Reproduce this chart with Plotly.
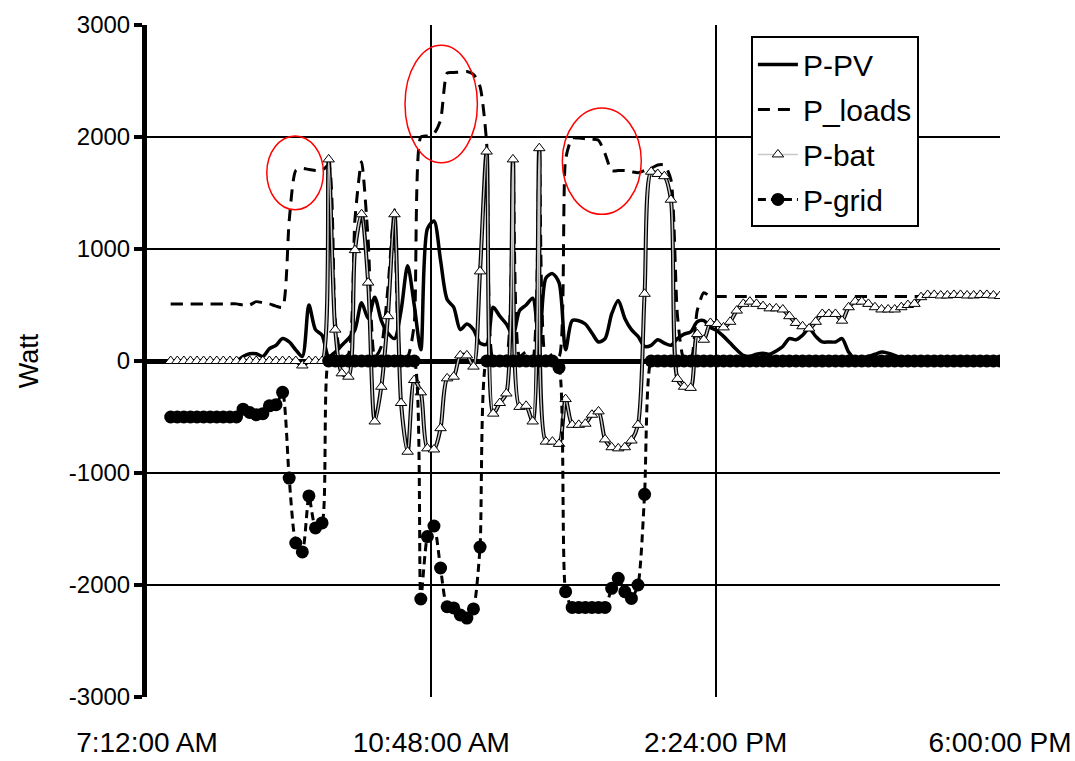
import plotly.graph_objects as go
import pandas as pd

# ---- data (5-minute samples from 7:30 to 18:00) ----
times = pd.date_range("2020-01-01 07:30", "2020-01-01 18:00", freq="5min")

p_pv = [0, 0, 0, 0, 0, 0, 0, 0, 0, 0, 0,
        40, 65, 65, 40, 110, 140, 200, 170, 100, 40,
        500, 280, 230, 40, 80, 140, 200, 280, 520, 380,
        570, 360, 250, 200, 450, 850, 500, 100, 1180, 1250,
        900, 550, 480, 280, 330, 280, 160, 150, 480, 400,
        330, 230, 450, 500, 560, 120, 740, 780, 700, 100,
        360, 360, 330, 250, 170, 200, 420, 540, 380, 280,
        220, 130, 140, 190, 160, 140, 200, 240, 260, 350,
        360, 300, 270, 220, 160, 100, 50, 40, 60, 70,
        60, 90, 130, 200, 190, 230, 290, 220, 170, 170,
        170, 200, 80, 20, 20, 40, 60, 80, 70, 50,
        30, 20, 20, 10, 10, 5, 5, 0, 0, 0, 0, 0, 0, 0, 0, 0]

p_loads = [510, 510, 510, 510, 510, 510, 510, 510, 510, 510, 510,
           500, 500, 530, 520, 510, 490, 480, 1250, 1700, 1720,
           1710, 1700, 1700, 1750, 360, 30, 60, 1270, 1780, 1080,
           30, 130, 650, 1350, 30, 40, 330, 2000, 2010, 2030,
           2150, 2570, 2575, 2580, 2585, 2560, 2450, 1950, 10, 25,
           40, 1800, 40, 80, 20, 1900, 20, 60, 40, 1800,
           1990, 1990, 1985, 1980, 1970, 1850, 1700, 1700, 1700, 1690,
           1680, 1700, 1720, 1750, 1750, 1620, 400, 10, 0, 450,
           610, 575, 575, 575, 575, 575, 575, 575, 575, 575,
           575, 575, 575, 575, 575, 575, 575, 575, 575, 575,
           575, 575, 575, 575, 575, 575, 575, 575, 575, 575,
           575, 575, 575, 575, 575, 578, 578, 578, 578, 578,
           578, 578, 578, 578, 578, 578]

p_bat = [0, 0, 0, 0, 0, 0, 0, 0, 0, 0, 0, 0, 0, 0, 0, 0, 0, 0, 0, 0,
         -40, 0, 0, 0, 1800, 280, -110, -140, 990, 1310,
         700, -540, -230, 400, 1310, -375, -810, -170, -280, -780,
         -790, -600, -155, -140, 50, 50, -50, 800, 1870, -470,
         -375, -290, 1800, -410, -400, -540, 1900, -720, -720, -740,
         -340, -570, -570, -560, -480, -450, -700, -770, -780, -770,
         -710, -570, 600, 1690, 1670, 1650, 1440, -160, -230, -240,
         240, 190, 340, 330, 300, 350, 450, 510, 530, 510,
         490, 470, 470, 460, 400, 340, 310, 290, 350, 420,
         420, 420, 360, 480, 530, 530, 510, 480, 460, 460,
         460, 480, 500, 510, 570, 590,
         590, 585, 585, 590, 590, 585, 585, 590, 590, 585, 580]

p_grid = [-500, -500, -500, -500, -500, -500, -500, -500, -500, -500, -500,
          -430, -460, -480, -470, -400, -390, -280, -1045, -1625, -1705,
          -1205, -1490, -1446,
          0, 0, 0, 0, 0, 0, 0, 0, 0, 0, 0, 0, 0, 0,
          -2125, -1568, -1473, -1848, -2194, -2205, -2268, -2295, -2214, -1661,
          0, 0, 0, 0, 0, 0, 0, 0, 0, 0, 0,
          -60, -2060, -2200, -2200, -2200, -2200, -2200, -2200,
          -2030, -1940, -2060, -2120, -2000, -1190] + [0] * 54

x_tick_vals = ["2020-01-01 07:12", "2020-01-01 10:48", "2020-01-01 14:24", "2020-01-01 18:00"]
x_tick_text = ["7:12:00 AM", "10:48:00 AM", "2:24:00 PM", "6:00:00 PM"]
y_tick_vals = [-3000, -2000, -1000, 0, 1000, 2000, 3000]
y_tick_text = ["-3000", "-2000", "-1000", "0", "1000", "2000", "3000"]

# highlighted regions (red ellipses): (x0, x1, y0, y1)
ellipses = [
    ("2020-01-01 08:43:00", "2020-01-01 09:26:00", 1350, 2010),
    ("2020-01-01 10:28:00", "2020-01-01 11:23:00", 1770, 2820),
    ("2020-01-01 12:27:30", "2020-01-01 13:27:30", 1310, 2260),
]

FONT = "Liberation Sans, Arial, sans-serif"

fig = go.Figure()

fig.add_trace(go.Scatter(
    x=times, y=p_pv, name="P-PV", mode="lines", legendgroup="a",
    line=dict(color="black", width=3.5, shape="spline", smoothing=0.8)))

fig.add_trace(go.Scatter(
    x=times, y=p_loads, name="P_loads", mode="lines", legendgroup="b",
    line=dict(color="black", width=3, dash="12px,8px", shape="spline", smoothing=0.6)))

fig.add_trace(go.Scatter(
    x=times, y=p_bat, name="P-bat", mode="lines", legendgroup="c", showlegend=False,
    line=dict(color="black", width=4, shape="spline", smoothing=0.8), hoverinfo="skip"))
fig.add_trace(go.Scatter(
    x=times, y=p_bat, name="P-bat", mode="lines+markers", legendgroup="c",
    line=dict(color="#c8c8c8", width=1.5, shape="spline", smoothing=0.8),
    marker=dict(symbol="triangle-up", size=10, color="white",
                line=dict(color="black", width=1))))

fig.add_trace(go.Scatter(
    x=times, y=p_grid, name="P-grid", mode="lines+markers", legendgroup="d",
    line=dict(color="black", width=3, dash="8px,5px", shape="spline", smoothing=0.6),
    marker=dict(symbol="circle", size=13, color="black")))

for x0, x1, y0, y1 in ellipses:
    fig.add_shape(type="circle", xref="x", yref="y", x0=x0, x1=x1, y0=y0, y1=y1,
                  line=dict(color="red", width=1.5))

fig.update_layout(
    width=1075, height=761,
    margin=dict(l=147, r=75, t=25, b=64),
    paper_bgcolor="white", plot_bgcolor="white",
    font=dict(family=FONT, color="black"),
    showlegend=True,
    legend=dict(x=0.708, y=0.983, xanchor="left", yanchor="top",
                bgcolor="white", bordercolor="black", borderwidth=2,
                font=dict(size=30, family=FONT), itemwidth=40,
                traceorder="grouped", tracegroupgap=3),
)

fig.update_xaxes(
    type="date", range=["2020-01-01 07:12", "2020-01-01 18:00"],
    tickvals=x_tick_vals, ticktext=x_tick_text, automargin=False,
    showgrid=True, gridcolor="black", gridwidth=2,
    showline=False, ticks="", zeroline=False,
    tickfont=dict(size=28, family=FONT), ticklabelstandoff=26)

fig.update_yaxes(
    range=[-3000, 3000], tickvals=y_tick_vals, ticktext=y_tick_text, automargin=False,
    showgrid=True, gridcolor="black", gridwidth=2,
    zeroline=True, zerolinecolor="black", zerolinewidth=5,
    showline=True, linecolor="black", linewidth=5,
    ticks="outside", ticklen=8, tickwidth=4, tickcolor="black",
    tickfont=dict(size=24, family=FONT), ticklabelstandoff=-1,
    title=dict(text="Watt", font=dict(size=27, family=FONT), standoff=24))

fig.write_html("out.html")
